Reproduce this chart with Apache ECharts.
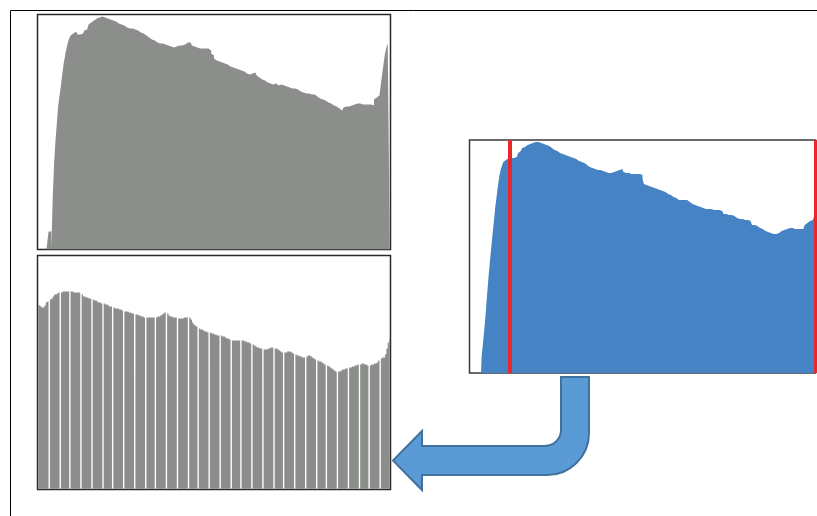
<!DOCTYPE html>
<html>
<head>
<meta charset="utf-8">
<script src="https://cdn.jsdelivr.net/npm/echarts@6/dist/echarts.min.js"></script>
<style>
  html, body { margin: 0; padding: 0; background: #fff; }
  #main { width: 817px; height: 516px; }
</style>
</head>
<body>
<div id="main"></div>
<script>
// grey levels 0..255
var levels = [];
for (var k = 0; k < 256; k++) { levels.push(String(k)); }

// histogram after equalisation-like mapping (top left)
var histTop = [
    0, 0, 0, 0, 0, 0, 0, 0, 18, 18, 0,
    50, 85, 108, 126, 144, 154, 164, 176, 186, 194,
    201, 207, 211, 214, 216, 218, 218, 216, 215, 215,
    216, 216, 217, 219, 220, 222, 225, 227, 228, 229,
    230, 231, 231, 232, 232, 233, 232, 232, 231, 231,
    231, 230, 230, 229, 229, 228, 227, 226, 226, 225,
    224, 224, 223, 222, 222, 221, 221, 221, 220, 220,
    220, 219, 218, 217, 217, 216, 215, 214, 213, 212,
    211, 210, 210, 209, 208, 207, 207, 206, 206, 206,
    205, 205, 205, 204, 203, 203, 202, 202, 203, 203,
    204, 204, 204, 204, 205, 205, 206, 207, 208, 207,
    205, 204, 203, 202, 202, 201, 201, 201, 201, 202,
    201, 201, 201, 200, 199, 196, 194, 191, 189, 188,
    188, 187, 187, 186, 186, 185, 185, 184, 183, 183,
    182, 182, 181, 181, 180, 180, 179, 178, 178, 177,
    176, 175, 175, 176, 176, 176, 177, 176, 174, 172,
    171, 170, 170, 169, 168, 167, 167, 166, 166, 165,
    165, 166, 165, 164, 166, 165, 164, 164, 163, 163,
    163, 162, 162, 161, 162, 161, 160, 160, 159, 158,
    158, 157, 157, 156, 156, 156, 155, 155, 156, 155,
    154, 153, 152, 151, 151, 150, 149, 149, 148, 147,
    146, 146, 145, 144, 144, 143, 142, 141, 140, 139,
    141, 142, 143, 144, 143, 145, 144, 145, 145, 144,
    146, 145, 146, 146, 145, 146, 145, 146, 145, 144,
    145, 144, 144, 150, 152, 153, 154, 156, 165, 176,
    186, 196, 202, 206, 207
];

// stretched histogram (bottom left), empty levels left by the stretch
var histStretched = [
    185, 184, 183, 182, 182, 184, 187, 188, 0,
    190, 191, 193, 195, 195, 196, 197, 0,
    197, 198, 198, 198, 198, 198, 0,
    198, 198, 197, 197, 197, 197, 197, 0,
    195, 193, 193, 192, 192, 191, 191, 0,
    190, 189, 189, 188, 187, 187, 186, 0,
    186, 185, 185, 184, 183, 183, 0,
    182, 181, 181, 181, 180, 180, 179, 0,
    178, 178, 178, 177, 177, 176, 176, 0,
    175, 175, 174, 174, 173, 173, 172, 0,
    172, 172, 172, 172, 172, 172, 0,
    172, 173, 173, 174, 175, 176, 177, 0,
    176, 174, 173, 173, 172, 172, 172, 0,
    171, 171, 171, 171, 172, 172, 172, 0,
    172, 170, 167, 165, 164, 163, 0,
    161, 160, 160, 159, 158, 158, 157, 0,
    157, 156, 156, 155, 155, 154, 154, 0,
    154, 153, 153, 152, 151, 151, 150, 0,
    149, 149, 149, 149, 149, 149, 0,
    149, 149, 148, 148, 147, 147, 146, 0,
    145, 144, 143, 142, 142, 141, 141, 0,
    140, 140, 140, 141, 141, 142, 142, 0,
    141, 141, 140, 139, 138, 137, 0,
    137, 137, 138, 138, 138, 137, 136, 0,
    135, 134, 134, 133, 133, 132, 132, 0,
    133, 134, 134, 133, 132, 131, 130, 0,
    129, 128, 128, 127, 126, 125, 0,
    124, 123, 122, 121, 120, 119, 118, 0,
    118, 118, 119, 120, 120, 121, 121, 0,
    122, 122, 123, 123, 124, 124, 125, 0,
    125, 126, 126, 125, 125, 124, 0,
    124, 125, 125, 126, 126, 127, 129, 0,
    131, 132, 132, 135, 141, 147, 150
];

// original histogram (right)
var histOriginal = [
    0, 0, 0, 0, 0, 0, 0, 0, 0,
    17, 30, 44, 60, 78, 95, 110, 124, 138, 151,
    165, 176, 187, 196, 203, 207, 211, 213, 214, 215,
    215, 215, 215, 215, 216, 216, 218, 220, 222, 224,
    225, 226, 227, 228, 229, 229, 230, 230, 231, 231,
    231, 231, 230, 230, 230, 229, 229, 228, 228, 227,
    226, 225, 224, 223, 222, 222, 221, 220, 220, 219,
    218, 218, 217, 217, 216, 216, 215, 215, 214, 214,
    213, 212, 212, 211, 210, 210, 209, 208, 207, 206,
    205, 205, 204, 204, 204, 203, 203, 203, 202, 202,
    201, 201, 200, 200, 200, 200, 200, 201, 201, 202,
    202, 203, 204, 204, 203, 201, 200, 200, 200, 199,
    199, 199, 199, 199, 199, 199, 199, 199, 198, 194,
    189, 188, 187, 187, 186, 186, 185, 185, 184, 184,
    184, 183, 183, 182, 181, 181, 180, 179, 179, 178,
    177, 176, 175, 175, 174, 173, 173, 173, 173, 173,
    173, 173, 172, 171, 170, 169, 169, 168, 168, 167,
    166, 166, 165, 165, 165, 164, 164, 164, 164, 164,
    164, 163, 163, 163, 163, 163, 163, 162, 160, 159,
    159, 159, 158, 158, 158, 158, 157, 156, 155, 154,
    154, 154, 154, 153, 153, 153, 153, 153, 152, 150,
    148, 148, 147, 147, 146, 145, 145, 144, 143, 142,
    142, 141, 140, 140, 139, 139, 139, 139, 139, 140,
    141, 142, 143, 143, 144, 144, 145, 145, 145, 145,
    145, 144, 144, 144, 144, 144, 144, 144, 145, 148,
    150, 151, 152, 152, 153, 155, 157
];

// stretch range markers (min / max level)
var stretchRange = ['29', '255'];

// bent arrow outline
var arrowPath = 'M589,377 L589,433 A42,42 0 0 1 547,475 L422,475 L422,490 L393,460.5 L422,431 L422,446 L545,446 A16,16 0 0 0 561,430 L561,377 Z';

var myChart = echarts.init(document.getElementById('main'));

function hiddenX(idx) {
    return {
        type: 'category', gridIndex: idx, data: levels, boundaryGap: true,
        axisLine: { show: false }, axisTick: { show: false },
        axisLabel: { show: false }, splitLine: { show: false }
    };
}
function hiddenY(idx, max) {
    return {
        type: 'value', gridIndex: idx, min: 0, max: max,
        axisLine: { show: false }, axisTick: { show: false },
        axisLabel: { show: false }, splitLine: { show: false }
    };
}

// filled histogram outline
function areaSeries(idx, data, color) {
    return {
        type: 'line', xAxisIndex: idx, yAxisIndex: idx,
        step: 'middle', data: data,
        symbol: 'none', showSymbol: false, silent: true,
        lineStyle: { width: 0, opacity: 0 },
        areaStyle: { color: color, opacity: 1 }
    };
}

// stretched histogram as one stepped polygon so empty levels show as gaps
function gapSeries(idx, data, color) {
    return {
        type: 'custom', xAxisIndex: idx, yAxisIndex: idx, silent: true,
        encode: { x: 0, y: 1 },
        data: [[0, 0]],
        renderItem: function (params, api) {
            var cs = params.coordSys;
            var w = api.size([1, 0])[0];
            var base = api.coord([0, 0])[1] - 0.75;
            var xl = cs.x + 0.75, xr = cs.x + cs.width - 0.75;
            var pts = [[xl, base]];
            for (var i = 0; i < data.length; i++) {
                var c = api.coord([i, data[i]]);
                var y = data[i] ? c[1] : base;
                pts.push([Math.max(c[0] - w / 2, xl), y]);
                pts.push([Math.min(c[0] + w / 2, xr), y]);
            }
            pts.push([xr, base]);
            return {
                type: 'polygon',
                shape: { points: pts },
                style: { fill: color }
            };
        }
    };
}

var option = {
    animation: false,
    grid: [
        { left: 37.5, top: 14.5, width: 353, height: 235, show: true, borderColor: '#2a2a2a', borderWidth: 1.5 },
        { left: 37.5, top: 255.5, width: 353, height: 234, show: true, borderColor: '#2a2a2a', borderWidth: 1.5 },
        { left: 469.5, top: 140, width: 346, height: 233, show: true, borderColor: '#3a3a3a', borderWidth: 1.5 }
    ],
    xAxis: [hiddenX(0), hiddenX(1), hiddenX(2)],
    yAxis: [hiddenY(0, 235), hiddenY(1, 234), hiddenY(2, 233)],
    series: [
        areaSeries(0, histTop, '#8c8e8c'),
        gapSeries(1, histStretched, '#8c8e8c'),
        Object.assign(areaSeries(2, histOriginal, '#4683c4'), {
            markLine: {
                silent: true,
                symbol: 'none',
                label: { show: false },
                lineStyle: { color: '#e8262c', type: 'solid' },
                data: [
                    { xAxis: stretchRange[0], lineStyle: { width: 4 } },
                    { xAxis: stretchRange[1], lineStyle: { width: 3 } }
                ]
            }
        }),
        {
            type: 'custom',
            coordinateSystem: 'none',
            silent: true,
            z: 10,
            data: [0],
            renderItem: function () {
                return {
                    type: 'path',
                    shape: { pathData: arrowPath },
                    style: { fill: '#5b9bd5', stroke: '#41719c', lineWidth: 2 }
                };
            }
        }
    ],
    graphic: [
        // frame lines
        { type: 'line', shape: { x1: 10.5, y1: 10.5, x2: 817, y2: 10.5 }, style: { stroke: '#000', lineWidth: 1 } },
        { type: 'line', shape: { x1: 10.5, y1: 10.5, x2: 10.5, y2: 516 }, style: { stroke: '#000', lineWidth: 1 } }
    ]
};

myChart.setOption(option, true);
window.onresize = myChart.resize;
</script>
</body>
</html>
